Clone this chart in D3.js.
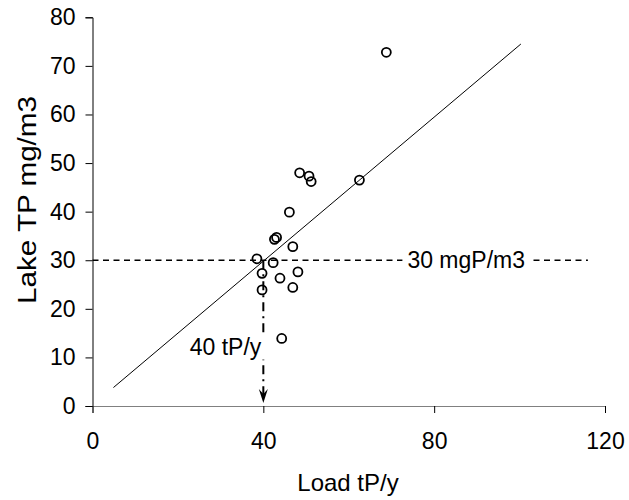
<!DOCTYPE html>
<html><head><meta charset="utf-8">
<script src="https://cdn.jsdelivr.net/npm/d3@7"></script>
<style>body{margin:0;background:#fff}</style>
</head><body><svg id="c" width="629" height="500"></svg>
<script>
// data
const loadTP = [48.5, 50.7, 51.2, 62.5, 46.1, 43.1, 42.6, 46.9, 38.5, 42.3, 39.7, 48.1, 43.9, 39.7, 46.9, 44.3, 68.8];
const lakeTP = [48.0, 47.3, 46.2, 46.5, 39.9, 34.7, 34.3, 32.8, 30.3, 29.5, 27.3, 27.6, 26.3, 23.9, 24.4, 13.9, 72.8];
const fitLoad = [4.9, 100.3];
const fitTP = [3.8, 74.5];
const xTicks = [0, 40, 80, 120];
const yTicks = [0, 10, 20, 30, 40, 50, 60, 70, 80];
const targetTP = 30, targetTPLabel = "30 mgP/m3", targetLineEnd = 116, targetLabelAt = 87.5;
const targetLoad = 40, targetLoadLabel = "40 tP/y", targetLoadLabelAt = 12;
const xTitle = "Load tP/y", yTitle = "Lake TP mg/m3";

const FONT = "'Liberation Sans', Arial, sans-serif";
const FS = 23;
const svg = d3.select("#c");
const x = d3.scaleLinear().domain([0, 120]).range([92.5, 605]);
const y = d3.scaleLinear().domain([0, 80]).range([406, 17.3]);

// y axis
const gy = svg.append("g").attr("transform", `translate(${x(0)},0)`)
  .call(d3.axisLeft(y).tickValues(yTicks).tickSize(7).tickPadding(10).tickFormat(d3.format("d")));
gy.select(".domain").attr("stroke", "#000");
gy.selectAll("text").attr("font-family", FONT).attr("font-size", FS).attr("fill", "#000");

// x axis
const gx = svg.append("g").attr("transform", `translate(0,${y(0)})`)
  .call(d3.axisBottom(x).tickValues(xTicks).tickSize(7).tickPadding(20).tickFormat(d3.format("d")));
gx.select(".domain").attr("stroke", "#808080");
gx.selectAll("text").attr("font-family", FONT).attr("font-size", FS).attr("fill", "#000");

// titles
svg.append("text").attr("x", 348).attr("y", 491)
  .attr("text-anchor", "middle").attr("font-family", FONT).attr("font-size", 24).text(xTitle);
svg.append("text").attr("transform", `translate(36,200) rotate(-90)`)
  .attr("text-anchor", "middle").attr("font-family", FONT).attr("font-size", 25)
  .attr("textLength", 208).attr("lengthAdjust", "spacingAndGlyphs").text(yTitle);

// horizontal target line
svg.append("line").attr("x1", x(0)).attr("x2", x(targetLineEnd))
  .attr("y1", y(targetTP)).attr("y2", y(targetTP))
  .attr("stroke", "#000").attr("stroke-width", 1.4).attr("stroke-dasharray", "6,4.5");
const hl = svg.append("text").attr("x", x(targetLabelAt)).attr("y", y(targetTP)).attr("dy", "0.35em")
  .attr("text-anchor", "middle").attr("font-family", FONT).attr("font-size", FS).text(targetTPLabel);
const hb = hl.node().getBBox();
svg.append("rect").attr("x", hb.x - 5).attr("y", y(targetTP) - 3).attr("width", hb.width + 10).attr("height", 6).attr("fill", "#fff");
hl.raise();

// vertical target line with arrow
svg.append("line").attr("x1", x(targetLoad)).attr("x2", x(targetLoad))
  .attr("y1", y(targetTP)).attr("y2", y(0) - 12)
  .attr("stroke", "#000").attr("stroke-width", 2).attr("stroke-dasharray", "9,5,2,5");
const ax = x(targetLoad), ay = y(0) - 3;
svg.append("path").attr("d", `M${ax},${ay} L${ax - 4.5},${ay - 14} L${ax},${ay - 9} L${ax + 4.5},${ay - 14} Z`).attr("fill", "#000");
const vl = svg.append("text").attr("x", x(targetLoad) - 2).attr("y", y(targetLoadLabelAt)).attr("dy", "0.3em")
  .attr("text-anchor", "end").attr("font-family", FONT).attr("font-size", FS).text(targetLoadLabel);
const vb = vl.node().getBBox();
svg.append("rect").attr("x", vb.x - 2).attr("y", vb.y).attr("width", vb.width + 8).attr("height", vb.height).attr("fill", "#fff");
vl.raise();

// fit line
svg.append("line").attr("x1", x(fitLoad[0])).attr("y1", y(fitTP[0]))
  .attr("x2", x(fitLoad[1])).attr("y2", y(fitTP[1])).attr("stroke", "#000").attr("stroke-width", 1);

// points
svg.append("g").selectAll("circle").data(loadTP.map((d, i) => [d, lakeTP[i]])).join("circle")
  .attr("cx", d => x(d[0])).attr("cy", d => y(d[1])).attr("r", 4.5)
  .attr("fill", "none").attr("stroke", "#000").attr("stroke-width", 1.8);
</script></body></html>
